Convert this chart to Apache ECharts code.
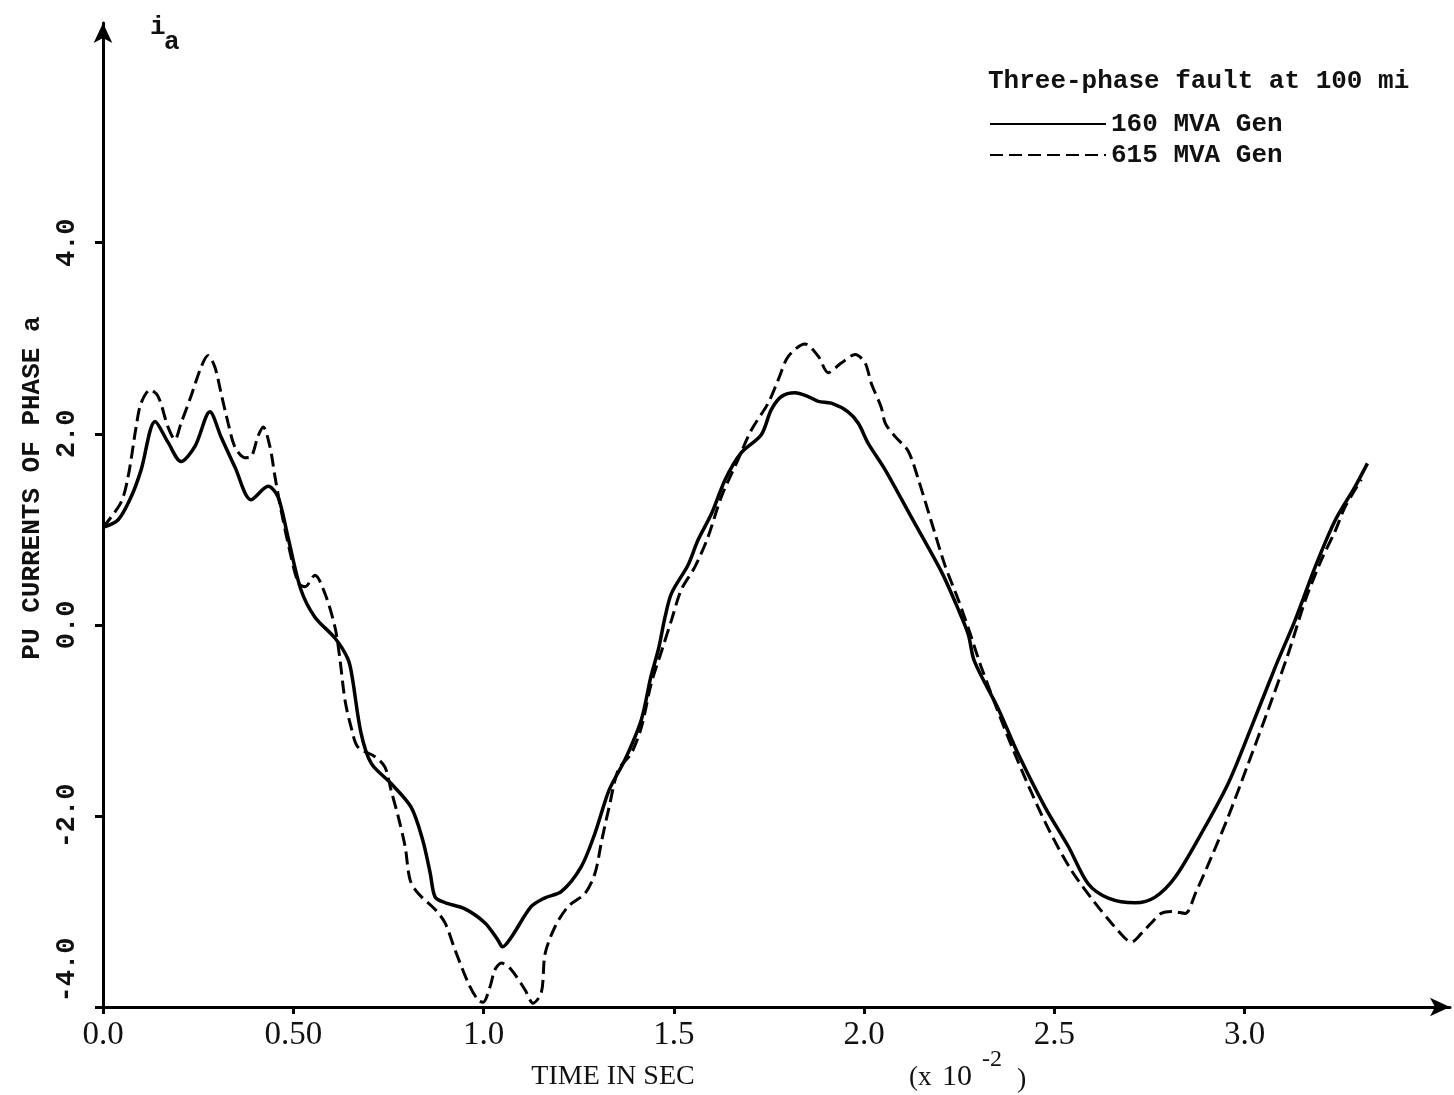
<!DOCTYPE html>
<html>
<head>
<meta charset="utf-8">
<title>Phase a current, three-phase fault at 100 mi</title>
<script src="https://cdn.jsdelivr.net/npm/echarts@6/dist/echarts.min.js"></script>
<style>
  html, body { margin: 0; padding: 0; background: #ffffff; }
  #chart { width: 1454px; height: 1095px; }
</style>
</head>
<body>
<div id="chart"></div>
<script>
// Phase a current (per unit) against time (x 10^-2 s)
// 160 MVA generator, [time, current]
const gen160 = [
  [0.000, 1.02], [0.040, 1.10], [0.074, 1.34], [0.100, 1.62], [0.137, 2.13],
  [0.171, 1.91], [0.205, 1.71], [0.242, 1.87], [0.281, 2.23], [0.310, 1.97],
  [0.347, 1.65], [0.389, 1.31], [0.434, 1.45], [0.460, 1.34], [0.486, 0.92],
  [0.520, 0.37], [0.557, 0.08], [0.610, -0.14], [0.644, -0.36], [0.655, -0.55],
  [0.678, -1.13], [0.705, -1.45], [0.757, -1.66], [0.810, -1.91], [0.840, -2.25],
  [0.860, -2.60], [0.873, -2.85], [0.900, -2.91], [0.950, -2.97], [1.004, -3.12],
  [1.038, -3.30], [1.050, -3.37], [1.073, -3.27], [1.125, -2.95], [1.160, -2.86],
  [1.205, -2.79], [1.257, -2.53], [1.293, -2.18], [1.330, -1.73], [1.372, -1.41],
  [1.415, -0.99], [1.440, -0.54], [1.460, -0.25], [1.477, 0.08], [1.494, 0.33],
  [1.538, 0.63], [1.564, 0.89], [1.600, 1.17], [1.635, 1.52], [1.677, 1.80],
  [1.730, 1.99], [1.756, 2.25], [1.783, 2.39], [1.819, 2.43], [1.853, 2.39],
  [1.880, 2.34], [1.914, 2.32], [1.958, 2.23], [1.985, 2.11], [2.011, 1.90],
  [2.056, 1.62], [2.124, 1.13], [2.203, 0.56], [2.248, 0.16], [2.274, -0.10],
  [2.290, -0.38], [2.353, -0.88], [2.405, -1.35], [2.476, -1.91], [2.537, -2.32],
  [2.589, -2.71], [2.642, -2.86], [2.713, -2.91], [2.765, -2.85], [2.818, -2.64],
  [2.887, -2.18], [2.957, -1.66], [3.018, -1.07], [3.081, -0.44], [3.133, 0.05],
  [3.186, 0.61], [3.239, 1.10], [3.291, 1.45], [3.323, 1.69]
];

// 615 MVA generator, [time, current]
const gen615 = [
  [0.000, 1.02], [0.047, 1.28], [0.066, 1.55], [0.087, 2.07], [0.100, 2.32],
  [0.124, 2.46], [0.145, 2.39], [0.171, 2.07], [0.189, 1.94], [0.205, 2.11],
  [0.231, 2.39], [0.258, 2.70], [0.276, 2.82], [0.294, 2.70], [0.310, 2.43],
  [0.329, 2.11], [0.347, 1.86], [0.373, 1.75], [0.389, 1.76], [0.407, 1.97],
  [0.421, 2.07], [0.439, 1.86], [0.452, 1.55], [0.468, 1.20], [0.486, 0.86],
  [0.513, 0.44], [0.531, 0.40], [0.557, 0.52], [0.584, 0.32], [0.610, -0.03],
  [0.623, -0.37], [0.636, -0.79], [0.652, -1.07], [0.670, -1.28], [0.715, -1.38],
  [0.741, -1.49], [0.757, -1.73], [0.776, -2.01], [0.794, -2.32], [0.807, -2.67],
  [0.828, -2.81], [0.873, -2.98], [0.899, -3.12], [0.925, -3.40], [0.960, -3.75],
  [0.986, -3.93], [0.999, -3.95], [1.017, -3.79], [1.030, -3.61], [1.047, -3.54],
  [1.073, -3.61], [1.109, -3.82], [1.130, -3.96], [1.152, -3.85], [1.162, -3.44],
  [1.188, -3.16], [1.222, -2.95], [1.267, -2.81], [1.293, -2.60], [1.311, -2.25],
  [1.330, -1.91], [1.354, -1.52], [1.389, -1.34], [1.415, -1.07], [1.441, -0.61],
  [1.470, -0.25], [1.494, 0.05], [1.520, 0.37], [1.556, 0.61], [1.590, 0.92],
  [1.625, 1.34], [1.669, 1.73], [1.704, 2.04], [1.748, 2.32], [1.775, 2.57],
  [1.801, 2.81], [1.845, 2.94], [1.880, 2.81], [1.906, 2.64], [1.940, 2.74],
  [1.977, 2.83], [2.003, 2.74], [2.019, 2.53], [2.045, 2.28], [2.056, 2.11],
  [2.082, 1.97], [2.116, 1.82], [2.143, 1.52], [2.177, 1.08], [2.213, 0.62],
  [2.248, 0.26], [2.278, -0.08], [2.308, -0.44], [2.371, -1.10], [2.424, -1.61],
  [2.484, -2.13], [2.545, -2.57], [2.607, -2.91], [2.650, -3.12], [2.686, -3.28],
  [2.703, -3.32], [2.729, -3.23], [2.755, -3.12], [2.781, -3.02], [2.808, -3.00],
  [2.844, -3.02], [2.871, -2.81], [2.913, -2.43], [2.957, -2.01], [3.010, -1.45],
  [3.062, -0.89], [3.115, -0.30], [3.160, 0.26], [3.202, 0.68], [3.239, 0.99],
  [3.265, 1.24], [3.307, 1.52]
];

// Axis ticks and their printed labels
const timeTicks = [0, 0.5, 1.0, 1.5, 2.0, 2.5, 3.0];
const timeTickLabels = ['0.0', '0.50', '1.0', '1.5', '2.0', '2.5', '3.0'];
const currentTicks = [-4, -2, 0, 2, 4];
const currentTickLabels = ['-4.0', '-2.0', '0.0', '2.0', '4.0'];

const seriesNames = ['160 MVA Gen', '615 MVA Gen'];
const legendTitle = 'Three-phase fault at 100 mi';

const mono = '"Liberation Mono", "DejaVu Sans Mono", monospace';
const serif = '"Liberation Serif", "DejaVu Serif", serif';
const ink = '#111111';

function labelFor(ticks, labels, v) {
  for (let k = 0; k < ticks.length; k++) {
    if (Math.abs(ticks[k] - v) < 1e-6) return labels[k];
  }
  return '';
}

const chart = echarts.init(document.getElementById('chart'), null, { renderer: 'canvas' });

const option = {
  animation: false,
  backgroundColor: '#ffffff',
  title: {
    text: legendTitle,
    left: 983,
    top: 63,
    textStyle: { fontFamily: mono, fontSize: 26, fontWeight: 'bold', color: ink }
  },
  legend: {
    data: seriesNames,
    orient: 'vertical',
    left: 984,
    top: 106,
    itemWidth: 116,
    itemHeight: 14,
    itemGap: 5,
    itemStyle: { opacity: 0 },
    textStyle: { fontFamily: mono, fontSize: 26, fontWeight: 'bold', color: ink }
  },
  grid: { left: 103, right: 4, top: 23, bottom: 88 },
  xAxis: {
    type: 'value',
    min: 0,
    max: 3.54,
    splitLine: { show: false },
    axisLine: {
      onZero: false,
      lineStyle: { color: '#000', width: 3 },
      symbol: ['none', 'arrow'],
      symbolSize: [14, 20]
    },
    axisTick: { customValues: timeTicks, length: 7, lineStyle: { color: '#000', width: 3 } },
    axisLabel: {
      customValues: timeTicks,
      formatter: v => labelFor(timeTicks, timeTickLabels, v),
      margin: 12,
      fontFamily: serif,
      fontSize: 33,
      color: ink
    }
  },
  yAxis: {
    type: 'value',
    min: -4,
    max: 6.3,
    splitLine: { show: false },
    axisLine: {
      show: true,
      onZero: false,
      lineStyle: { color: '#000', width: 3 },
      symbol: ['none', 'arrow'],
      symbolSize: [14, 20]
    },
    axisTick: { show: true, customValues: currentTicks, length: 8, lineStyle: { color: '#000', width: 3 } },
    axisLabel: {
      customValues: currentTicks,
      rotate: 90,
      margin: 22,
      formatter: v => {
        const s = labelFor(currentTicks, currentTickLabels, v);
        return v === -4 ? '{low|' + s + '}' : s;
      },
      rich: { low: { fontFamily: mono, fontSize: 27, fontWeight: 'bold', color: ink, padding: [0, 0, 0, 74] } },
      fontFamily: mono,
      fontSize: 27,
      fontWeight: 'bold',
      color: ink
    }
  },
  graphic: [
    {
      type: 'text', left: 150, top: 14,
      style: { text: 'i', font: 'bold 26px ' + mono, fill: ink }
    },
    {
      type: 'text', left: 164, top: 29,
      style: { text: 'a', font: 'bold 26px ' + mono, fill: ink }
    },
    {
      type: 'text', x: 32, y: 488, rotation: Math.PI / 2,
      style: { text: 'PU CURRENTS OF PHASE a', font: 'bold 26px ' + mono, fill: ink, align: 'center', verticalAlign: 'middle' }
    },
    {
      type: 'text', x: 613, y: 1077,
      style: { text: 'TIME IN SEC', font: '28px ' + serif, fill: ink, align: 'center', verticalAlign: 'middle' }
    },
    {
      type: 'text', x: 909, y: 1078,
      style: { text: '(x', font: '27px ' + serif, fill: ink, align: 'left', verticalAlign: 'middle' }
    },
    {
      type: 'text', x: 942, y: 1077,
      style: { text: '10', font: '30px ' + serif, fill: ink, align: 'left', verticalAlign: 'middle' }
    },
    {
      type: 'text', x: 982, y: 1060,
      style: { text: '-2', font: '24px ' + serif, fill: ink, align: 'left', verticalAlign: 'middle' }
    },
    {
      type: 'text', x: 1017, y: 1080,
      style: { text: ')', font: '28px ' + serif, fill: ink, align: 'left', verticalAlign: 'middle' }
    }
  ],
  series: [
    {
      name: seriesNames[0],
      type: 'line',
      data: gen160,
      smooth: 0.3,
      showSymbol: false,
      symbol: 'none',
      lineStyle: { color: '#000', width: 3.5, type: 'solid' },
      itemStyle: { color: '#000' },
      z: 3
    },
    {
      name: seriesNames[1],
      type: 'line',
      data: gen615,
      smooth: 0.3,
      showSymbol: false,
      symbol: 'none',
      lineStyle: { color: '#000', width: 3, type: [13, 6] },
      itemStyle: { color: '#000' },
      z: 2
    }
  ]
};

chart.setOption(option);
</script>
</body>
</html>
